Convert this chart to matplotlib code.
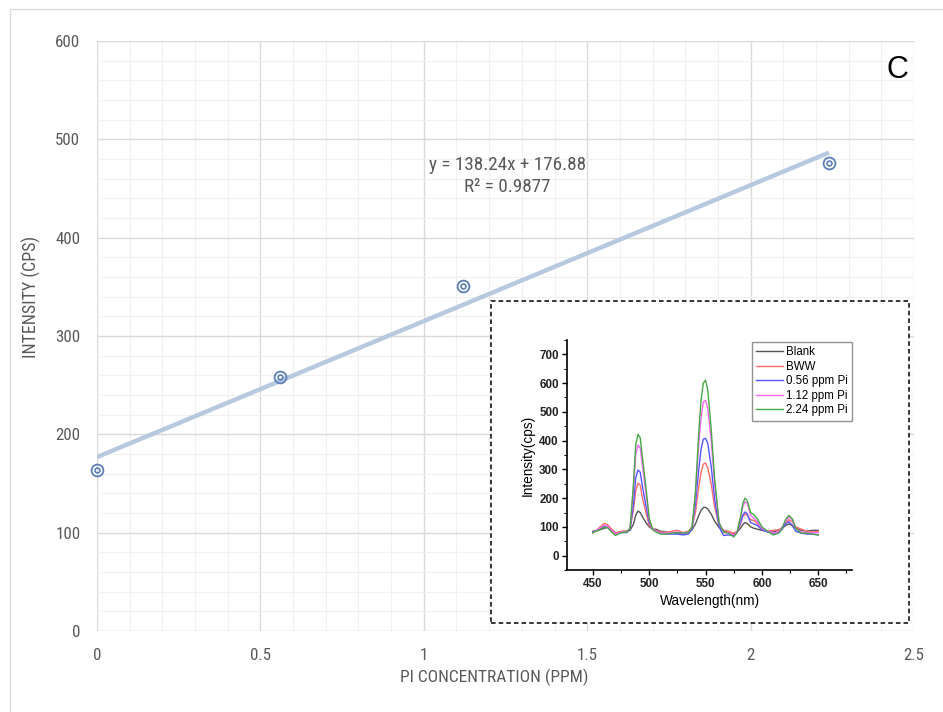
import matplotlib
matplotlib.use("Agg")
import matplotlib.pyplot as plt
from matplotlib import font_manager as fm
from matplotlib.patches import Rectangle
from matplotlib.lines import Line2D
from matplotlib.ticker import MultipleLocator

# ---------------- main calibration data ----------------
conc = [0.0, 0.56, 1.12, 2.24]
intensity = [164, 258, 351, 476]
slope = 138.24
intercept = 176.88
eq_text = "y = 138.24x + 176.88"
r2_text = "R² = 0.9877"
x_ticks = [0, 0.5, 1, 1.5, 2, 2.5]
x_tick_labels = ["0", "0.5", "1", "1.5", "2", "2.5"]
y_ticks = [0, 100, 200, 300, 400, 500, 600]

# ---------------- inset spectra data ----------------
wl = [450, 455, 460, 463, 466, 470, 475, 480, 483, 486, 488, 490, 492, 494, 497,
      500, 503, 506, 510, 515, 520, 525, 530, 535, 538, 541, 544, 546, 548, 550,
      552, 555, 558, 562, 566, 570, 575, 578, 581, 583, 585, 587, 590, 593, 596,
      600, 605, 610, 615, 618, 621, 624, 627, 630, 635, 640, 645, 650]
blank = [85, 88, 95, 98, 92, 80, 82, 85, 88, 110, 140, 155, 150, 135, 115,
         100, 92, 92, 85, 82, 80, 78, 78, 80, 90, 110, 140, 158, 167, 168,
         162, 145, 120, 98, 88, 80, 78, 82, 95, 108, 115, 112, 100, 95, 92,
         88, 84, 82, 88, 95, 105, 110, 105, 95, 88, 85, 88, 88]
bww = [78, 95, 112, 108, 95, 78, 85, 85, 95, 160, 225, 252, 245, 200, 150,
       105, 92, 88, 82, 80, 85, 88, 80, 85, 100, 150, 240, 290, 318, 322,
       305, 250, 170, 105, 88, 85, 78, 85, 110, 135, 145, 140, 125, 122, 112,
       95, 85, 88, 90, 98, 115, 125, 118, 100, 92, 85, 82, 85]
pi056 = [82, 90, 102, 100, 88, 75, 80, 80, 92, 180, 270, 298, 290, 240, 175,
         115, 92, 85, 78, 75, 75, 75, 72, 75, 95, 180, 300, 370, 405, 408,
         390, 310, 200, 100, 70, 72, 70, 80, 115, 140, 152, 145, 115, 110, 105,
         90, 82, 78, 80, 92, 110, 118, 105, 85, 78, 75, 75, 72]
pi112 = [80, 92, 105, 102, 90, 75, 82, 82, 95, 230, 350, 385, 375, 310, 220,
         125, 92, 85, 78, 78, 80, 82, 78, 82, 100, 210, 390, 480, 535, 540,
         510, 400, 250, 115, 80, 80, 72, 82, 130, 170, 188, 182, 140, 130, 118,
         95, 85, 80, 82, 98, 120, 135, 125, 95, 82, 80, 80, 80]
pi224 = [80, 88, 100, 97, 85, 70, 80, 82, 95, 250, 385, 422, 410, 340, 240,
         130, 90, 82, 75, 75, 78, 80, 78, 82, 100, 220, 430, 540, 600, 610,
         575, 440, 270, 115, 82, 78, 65, 80, 135, 180, 200, 192, 150, 142, 128,
         100, 85, 72, 78, 95, 125, 140, 128, 95, 78, 78, 75, 72]
series = [("Blank", blank, "#555555"),
          ("BWW", bww, "#ff6a6a"),
          ("0.56 ppm Pi", pi056, "#5555ff"),
          ("1.12 ppm Pi", pi112, "#ff66ff"),
          ("2.24 ppm Pi", pi224, "#44aa44")]
inset_xticks = [450, 500, 550, 600, 650]
inset_yticks = [0, 100, 200, 300, 400, 500, 600, 700]


def pick_font(cands):
    names = {f.name for f in fm.fontManager.ttflist}
    for c in cands:
        if c in names:
            return c
    for n in sorted(names):
        if "Narrow" in n or "Condensed" in n:
            return n
    return "DejaVu Sans"


main_font = pick_font(["Liberation Sans Narrow", "Roboto Condensed", "Open Sans Condensed"])
arial = pick_font(["Liberation Sans", "Arimo"])

W, H = 943, 712
fig = plt.figure(figsize=(W / 100, H / 100), dpi=100)
fig.patch.set_facecolor("white")
txt_col = "#595959"

# outer chart-area frame (top and left visible)
fig.add_artist(Line2D([10 / W, 1.0], [1 - 9 / H, 1 - 9 / H], color="#d9d9d9", lw=1.0,
                      transform=fig.transFigure))
fig.add_artist(Line2D([10 / W, 10 / W], [0, 1 - 9 / H], color="#d9d9d9", lw=1.0,
                      transform=fig.transFigure))

ax = fig.add_axes([97 / W, 1 - 631 / H, (914 - 97) / W, (631 - 41) / H])
ax.set_xlim(0, 2.5)
ax.set_ylim(0, 600)
ax.xaxis.set_major_locator(MultipleLocator(0.5))
ax.xaxis.set_minor_locator(MultipleLocator(0.1))
ax.yaxis.set_major_locator(MultipleLocator(100))
ax.yaxis.set_minor_locator(MultipleLocator(20))
ax.grid(which="major", color="#d9d9d9", lw=1.0)
ax.grid(which="minor", color="#f0f0f0", lw=0.8)
ax.set_axisbelow(True)
for s in ax.spines.values():
    s.set_visible(False)
ax.tick_params(which="both", length=0)
ax.set_xticks(x_ticks)
ax.set_xticklabels(x_tick_labels)
ax.set_yticks(y_ticks)
for lab in ax.get_xticklabels() + ax.get_yticklabels():
    lab.set_fontfamily(main_font)
    lab.set_fontsize(12.2)
    lab.set_color(txt_col)
ax.tick_params(axis="x", pad=12)
ax.tick_params(axis="y", pad=12)

# trendline
xs = [0, conc[-1]]
ax.plot(xs, [slope * x + intercept for x in xs], color="#b7c9df", lw=3.2,
        solid_capstyle="butt", zorder=2)
# markers (double circle)
ax.plot(conc, intensity, ls="none", marker="o", ms=8.5, mfc="none", mec="#5b7fb8",
        mew=1.3, zorder=3, clip_on=False)
ax.plot(conc, intensity, ls="none", marker="o", ms=3.5, mfc="none", mec="#5b7fb8",
        mew=1.2, zorder=3, clip_on=False)

fig.text(508 / W, 1 - 165 / H, eq_text, ha="center", va="center", fontsize=13.8,
         family=main_font, color=txt_col)
fig.text(507 / W, 1 - 187 / H, r2_text, ha="center", va="center", fontsize=13.8,
         family=main_font, color=txt_col)
fig.text(897 / W, 1 - 70 / H, "C", ha="center", va="center", fontsize=22,
         family=arial, color="black")

fig.text(494 / W, 1 - 677 / H, "PI CONCENTRATION (PPM)", ha="center", va="center",
         fontsize=12.5, family=main_font, color=txt_col)
fig.text(31 / W, 1 - 297 / H, "INTENSITY (CPS)", ha="center", va="center",
         fontsize=13, family=main_font, color=txt_col, rotation=90)

# dashed inset frame
rect = Rectangle((491 / W, 1 - 623 / H), 418 / W, 322 / H, transform=fig.transFigure,
                 facecolor="white", edgecolor="black", lw=1.1, ls=(0, (3, 2)),
                 zorder=5)
fig.add_artist(rect)

# inset axes
ia = fig.add_axes([567 / W, 1 - 570 / H, (852 - 567) / W, (570 - 340) / H], zorder=6)
ia.set_facecolor("none")
for name, vals, col in series:
    ia.plot(wl, vals, color=col, lw=1.0, label=name)
ia.set_xlim(427, 680)
ia.set_ylim(-50, 750)
ia.set_xticks(inset_xticks)
ia.set_yticks(inset_yticks)
ia.xaxis.set_minor_locator(MultipleLocator(25))
ia.yaxis.set_minor_locator(MultipleLocator(50))
ia.spines["top"].set_visible(False)
ia.spines["right"].set_visible(False)
for s in ("left", "bottom"):
    ia.spines[s].set_linewidth(1.2)
ia.tick_params(which="major", length=3.5, width=1, direction="out", pad=2.5)
ia.tick_params(which="minor", length=2, width=0.8, direction="out")
for lab in ia.get_xticklabels() + ia.get_yticklabels():
    lab.set_fontfamily(arial)
    lab.set_fontsize(8.4)
    lab.set_fontweight("bold")
    lab.set_color("#222222")
ia.set_xlabel("Wavelength(nm)", family=arial, fontsize=9.8, labelpad=3)
ia.set_ylabel("Intensity(cps)", family=arial, fontsize=9.8, labelpad=3)
leg = ia.legend(loc="upper right", bbox_to_anchor=(1.0, 0.99), frameon=True,
                fancybox=False, prop={"family": arial, "size": 8.3},
                handlelength=2.3, handletextpad=0.3, labelspacing=0.22,
                borderpad=0.35, borderaxespad=0.0)
leg.get_frame().set_edgecolor("#777777")
leg.get_frame().set_linewidth(1.0)

fig.savefig("out.png", dpi=100, facecolor="white")
